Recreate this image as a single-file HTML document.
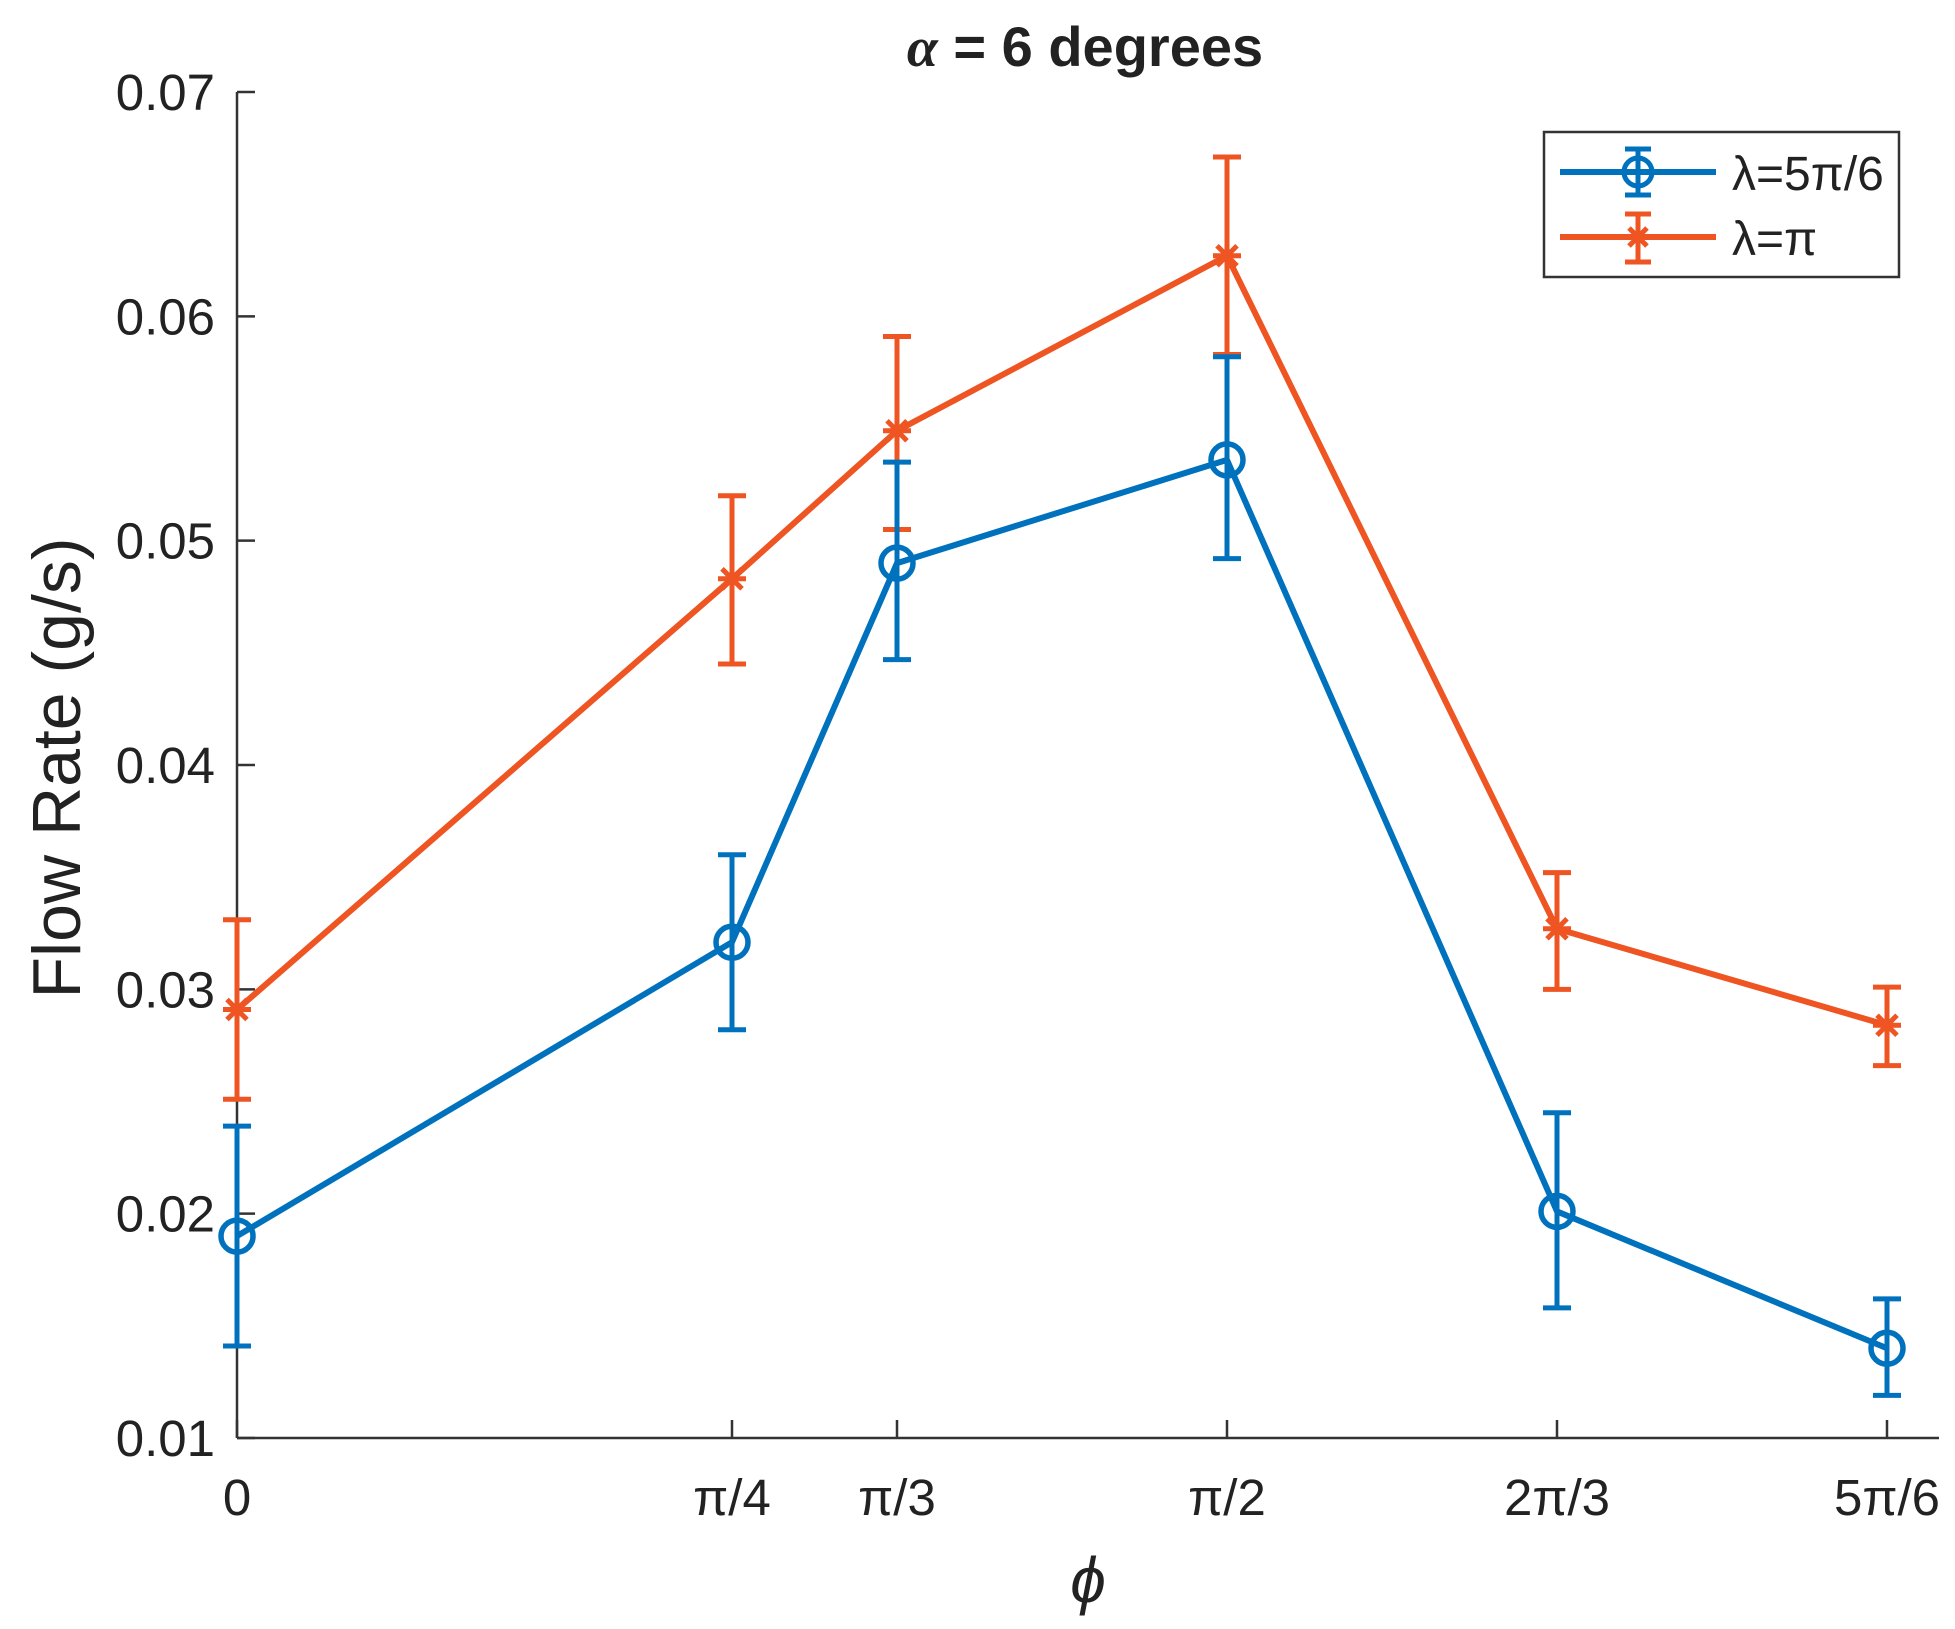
<!DOCTYPE html>
<html><head><meta charset="utf-8"><style>
html,body{margin:0;padding:0;background:#fff}
svg{display:block}
text{font-family:"Liberation Sans",sans-serif;fill:#222}
</style></head><body>
<svg id="chart" width="1955" height="1629" viewBox="0 0 1955 1629" xmlns="http://www.w3.org/2000/svg">
<text x="1085" y="66" font-size="56" font-weight="bold" text-anchor="middle"><tspan font-family="Liberation Serif" font-style="italic">α</tspan> = 6 degrees</text>
<text transform="translate(80,768) rotate(-90)" font-size="68" text-anchor="middle">Flow Rate (g/s)</text>
<text x="1088" y="1602" font-size="64" font-family="Liberation Serif" font-style="italic" text-anchor="middle">ϕ</text>
<g id="axes"></g>
<g id="series"></g>
<g>
<rect x="1544" y="132" width="355" height="145" fill="#fff" stroke="#333" stroke-width="2.5"/>
<line x1="1560" y1="172" x2="1716" y2="172" stroke="#0072BD" stroke-width="6"/>
<circle cx="1638" cy="172" r="14" fill="none" stroke="#0072BD" stroke-width="5"/>
<line x1="1638" y1="149" x2="1638" y2="195" stroke="#0072BD" stroke-width="5"/>
<line x1="1625" y1="149" x2="1651" y2="149" stroke="#0072BD" stroke-width="5"/>
<line x1="1625" y1="195" x2="1651" y2="195" stroke="#0072BD" stroke-width="5"/>
<text x="1732" y="190" font-size="48">λ=5π/6</text>
<line x1="1560" y1="237" x2="1716" y2="237" stroke="#EE5522" stroke-width="6"/>
<line x1="1638" y1="214" x2="1638" y2="262" stroke="#EE5522" stroke-width="5"/>
<line x1="1625" y1="214" x2="1651" y2="214" stroke="#EE5522" stroke-width="5"/>
<line x1="1625" y1="262" x2="1651" y2="262" stroke="#EE5522" stroke-width="5"/>
<path d="M1626,237H1650M1629,228L1647,246M1629,246L1647,228" stroke="#EE5522" stroke-width="5"/>
<text x="1732" y="255" font-size="48">λ=π</text>
</g>
</svg>
<script>
const xFracPi = [0, 0.25, 1/3, 0.5, 2/3, 5/6];
const xLabels = ["0","π/4","π/3","π/2","2π/3","5π/6"];
const yTicks = [0.01,0.02,0.03,0.04,0.05,0.06,0.07];
const yTickLabels = ["0.01","0.02","0.03","0.04","0.05","0.06","0.07"];
const blueVals = [0.0190,0.0321,0.0490,0.0536,0.0201,0.0140];
const blueHi = [0.0239,0.0360,0.0535,0.0582,0.0245,0.0162];
const blueLo = [0.0141,0.0282,0.0447,0.0492,0.0158,0.0119];
const orangeVals = [0.0291,0.0483,0.0549,0.0627,0.0327,0.0284];
const orangeHi = [0.0331,0.0520,0.0591,0.0671,0.0352,0.0301];
const orangeLo = [0.0251,0.0445,0.0505,0.0583,0.0300,0.0266];

const NS="http://www.w3.org/2000/svg";
const X0=237, XR=1939, PXPI=1980, YT=92, YB=1438, YMIN=0.01, YMAX=0.07;
const xs=v=>X0+v*PXPI;
const ys=v=>YB-(v-YMIN)/(YMAX-YMIN)*(YB-YT);
function mk(tag,attrs,parent){const e=document.createElementNS(NS,tag);for(const k in attrs)e.setAttribute(k,attrs[k]);parent.appendChild(e);return e;}
const axes=document.getElementById('axes');
const yAxis=mk('line',{x1:X0,y1:YT,x2:X0,y2:YB,stroke:'#333','stroke-width':2.5},axes);


const xAxis=mk('line',{x1:X0,y1:YB,x2:XR,y2:YB,stroke:'#333','stroke-width':2.5},axes);


yTicks.forEach((t,i)=>{
  const y=ys(t);
  mk('line',{x1:X0,y1:y,x2:X0+18,y2:y,stroke:'#333','stroke-width':2.5},axes);
  const tx=mk('text',{x:X0-22,y:y+18,'font-size':51,'text-anchor':'end'},axes);
  tx.textContent=yTickLabels[i];
  
  
});
xFracPi.forEach((v,i)=>{
  const x=xs(v);
  mk('line',{x1:x,y1:YB,x2:x,y2:YB-18,stroke:'#333','stroke-width':2.5},axes);
  const tx=mk('text',{x:x,y:1515,'font-size':51,'text-anchor':'middle'},axes);
  tx.textContent=xLabels[i];
  
  
});
const ser=document.getElementById('series');
function drawSeries(vals,hi,lo,color,name,marker){
  const g=mk('g',{},ser);
  
  
  const pts=vals.map((v,i)=>xs(xFracPi[i])+','+ys(v)).join(' ');
  mk('polyline',{points:pts,fill:'none',stroke:color,'stroke-width':6,'stroke-linejoin':'round'},g);
  vals.forEach((v,i)=>{
    const x=xs(xFracPi[i]);
    const eb=mk('path',{d:`M${x},${ys(hi[i])}V${ys(lo[i])}M${x-14},${ys(hi[i])}H${x+14}M${x-14},${ys(lo[i])}H${x+14}`,stroke:color,'stroke-width':5,fill:'none'},g);
    
    
    const y=ys(v);
    if(marker==='o'){
      const c=mk('circle',{cx:x,cy:y,r:16,fill:'none',stroke:color,'stroke-width':5.5},g);
      
      
    } else {
      const s=14,d=10;
      const p=mk('path',{d:`M${x-s},${y}H${x+s}M${x},${y-s}V${y+s}M${x-d},${y-d}L${x+d},${y+d}M${x-d},${y+d}L${x+d},${y-d}`,stroke:color,'stroke-width':5,fill:'none'},g);
      
      
    }
  });
}
drawSeries(orangeVals,orangeHi,orangeLo,'#EE5522','series-lambda-pi','*');
drawSeries(blueVals,blueHi,blueLo,'#0072BD','series-lambda-5pi6','o');
</script>
</body></html>
